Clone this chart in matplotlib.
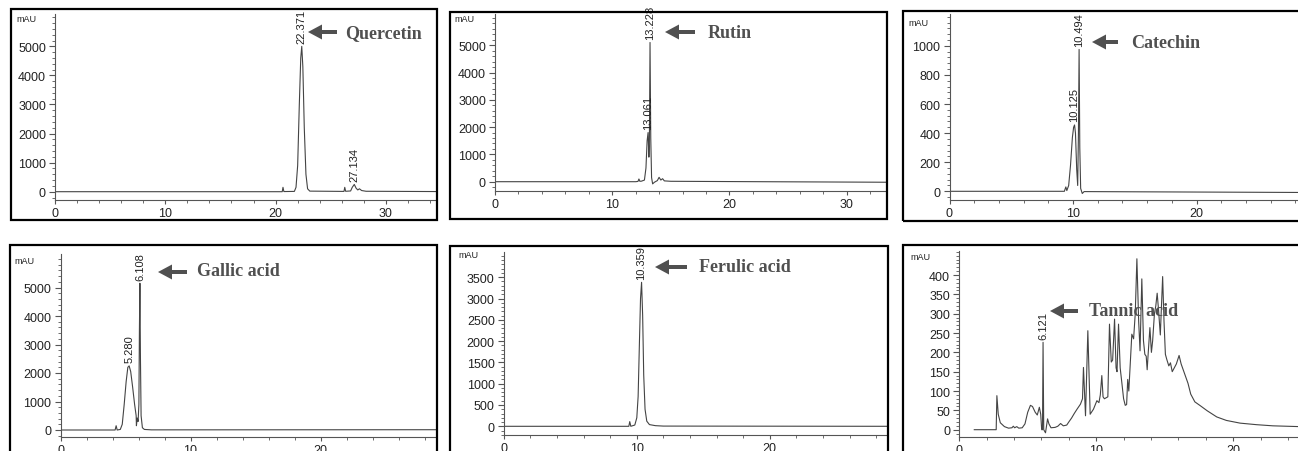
import matplotlib
matplotlib.use("Agg")
import matplotlib.pyplot as plt
from matplotlib.patches import Rectangle, Polygon
from matplotlib.ticker import MultipleLocator

# ---------------- data ----------------
quercetin_time = [0, 20.6, 20.67, 20.75, 21.7, 21.85, 22.0, 22.15, 22.28, 22.371, 22.47, 22.6, 22.75, 22.9, 23.1,
                  26.2, 26.27, 26.35, 26.8, 26.95, 27.134, 27.3, 27.45, 27.6, 27.8, 28.2, 34.6]
quercetin_mau = [0, 0, 150, 5, 10, 150, 900, 3000, 4600, 5000, 4300, 2200, 600, 100, 20,
                 10, 150, 15, 25, 150, 250, 120, 60, 100, 40, 15, 5]

rutin_time = [0, 12.0, 12.2, 12.28, 12.36, 12.5, 12.75, 12.88, 12.98, 13.061, 13.13, 13.17, 13.228, 13.29,
              13.36, 13.45, 13.6, 13.85, 14.0, 14.15, 14.3, 14.45, 15.0, 20.0, 33.5]
rutin_mau = [0, 0, 10, 100, 15, 20, 60, 500, 1500, 1800, 900, 1300, 5100, 1600,
             150, -80, -20, 40, 160, 60, 110, 30, 15, 5, -20]

catechin_time = [0, 9.3, 9.42, 9.5, 9.65, 9.8, 9.95, 10.05, 10.125, 10.2, 10.3, 10.38, 10.44, 10.494,
                 10.55, 10.62, 10.75, 10.9, 28.5]
catechin_mau = [0, 0, 30, 5, 40, 180, 370, 440, 456, 400, 150, 40, 400, 975,
                300, 20, -15, -2, -8]

gallic_time = [0, 4.2, 4.28, 4.36, 4.6, 4.75, 4.9, 5.05, 5.18, 5.28, 5.4, 5.55, 5.7, 5.82, 5.84, 5.9,
               5.97, 6.03, 6.07, 6.108, 6.15, 6.2, 6.3, 6.45, 7.0, 29]
gallic_mau = [0, 0, 150, 0, 20, 200, 900, 1700, 2200, 2250, 2050, 1500, 900, 500, 150, 420,
              300, 900, 3500, 5150, 2500, 500, 80, 20, 5, 10]

ferulic_time = [0, 9.4, 9.47, 9.55, 9.85, 10.0, 10.1, 10.2, 10.28, 10.359, 10.44, 10.52, 10.62, 10.75,
                10.95, 11.4, 12.0, 28.9]
ferulic_mau = [0, 0, 110, 0, 30, 200, 700, 2000, 3000, 3380, 2600, 1200, 400, 120,
               40, 15, 5, 0]

tannic_time = [1.1, 2.7, 2.75, 2.85, 3.0, 3.3, 3.6, 3.85, 3.95, 4.05, 4.2, 4.35, 4.6, 4.8, 5.0, 5.2, 5.35,
               5.55, 5.7, 5.85, 5.95, 6.02, 6.08, 6.121, 6.17, 6.3, 6.45, 6.55, 6.7, 7.0, 7.2, 7.4, 7.6,
               7.85, 8.0, 8.2, 8.4, 8.6, 8.85, 9.0, 9.07, 9.22, 9.39, 9.56, 9.8, 10.05, 10.2, 10.3, 10.41,
               10.5, 10.6, 10.85, 10.97, 11.1, 11.2, 11.34, 11.45, 11.52, 11.63, 11.75, 11.87, 12.0, 12.12,
               12.22, 12.3, 12.38, 12.5, 12.6, 12.73, 12.85, 12.97, 13.1, 13.2, 13.33, 13.45, 13.55, 13.65,
               13.72, 13.8, 13.92, 14.03, 14.12, 14.25, 14.35, 14.45, 14.55, 14.68, 14.85, 14.95, 15.05,
               15.15, 15.3, 15.42, 15.55, 15.7, 15.85, 16.05, 16.2, 16.35, 16.5, 16.7, 16.9, 17.2, 17.6,
               18.1, 18.8, 19.5, 20.5, 21.7, 22.9, 24.8]
tannic_mau = [0, 0, 88, 40, 18, 8, 4, 5, 9, 5, 8, 4, 5, 15, 45, 63, 60,
              45, 38, 58, 40, 0, 0, 226, 0, -8, 28, 15, 5, 6, 9, 16, 10,
              12, 20, 30, 42, 53, 66, 80, 161, 36, 256, 40, 53, 75, 70, 90, 140,
              85, 80, 85, 273, 175, 180, 286, 160, 150, 273, 160, 122, 80, 63,
              65, 130, 100, 180, 247, 235, 300, 442, 280, 204, 390, 230, 195, 190,
              155, 200, 264, 200, 230, 300, 320, 353, 310, 245, 396, 280, 195,
              182, 165, 173, 150, 160, 170, 192, 170, 155, 140, 120, 92, 72, 62,
              49, 33, 24, 17, 13, 10, 8]

compound_names = ["Quercetin", "Rutin", "Catechin", "Gallic acid", "Ferulic acid", "Tannic acid"]

quercetin_peaks = [(22.371, 5000, "22.371"), (27.134, 250, "27.134")]
rutin_peaks = [(13.228, 5100, "13.228"), (13.061, 1800, "13.061")]
catechin_peaks = [(10.494, 975, "10.494"), (10.125, 456, "10.125")]
gallic_peaks = [(6.108, 5150, "6.108"), (5.280, 2250, "5.280")]
ferulic_peaks = [(10.359, 3380, "10.359")]
tannic_peaks = [(6.121, 226, "6.121")]

y_major_steps = [1000, 1000, 200, 1000, 500, 50]
y_minor_steps = [200, 200, 40, 200, 100, 10]
y_tick_max = [5000, 5000, 1000, 5000, 3500, 400]

# ---------------- layout (pixels of the 1298x452 picture) ----------------
W, H = 1298, 452
fig = plt.figure(figsize=(W / 100, H / 100), dpi=100)
fig.patch.set_facecolor("white")


def fx(x):
    return x / W


def fy(y):
    return 1 - y / H


layouts = [
    dict(box=(11, 10, 437, 221), x0=55, right=436, top=15, bottom=201, sx=11.03, y0=192.7, sy=0.02907,
         arrow=(308, 337, 33), text=(345, 34), mau=(16, 20)),
    dict(box=(450, 13, 887, 220), x0=495, right=886, top=15, bottom=191.7, sx=11.72, y0=182.7, sy=0.0273,
         arrow=(665, 695, 33), text=(708, 33), mau=(454, 20)),
    dict(box=(903, 12, 1310, 222), x0=949.5, right=1300, top=15, bottom=201, sx=12.35, y0=192.3, sy=0.1455,
         arrow=(1092, 1118, 43), text=(1131, 43), mau=(908, 23)),
    dict(box=(10, 246, 437, 470), x0=60.5, right=436, top=255, bottom=437.7, sx=13.0, y0=431, sy=0.0285,
         arrow=(158, 187, 273), text=(197, 272), mau=(14, 262)),
    dict(box=(450, 247, 888, 470), x0=503.8, right=887, top=253.3, bottom=436, sx=13.3, y0=427.3, sy=0.0426,
         arrow=(655, 687, 268), text=(699, 268), mau=(458, 256)),
    dict(box=(903, 246, 1310, 470), x0=959.2, right=1300, top=251.7, bottom=437.7, sx=13.7, y0=430.7, sy=0.3867,
         arrow=(1050, 1078, 312), text=(1089, 312), mau=(910, 258)),
]

traces = [(quercetin_time, quercetin_mau), (rutin_time, rutin_mau), (catechin_time, catechin_mau),
          (gallic_time, gallic_mau), (ferulic_time, ferulic_mau), (tannic_time, tannic_mau)]
peaks = [quercetin_peaks, rutin_peaks, catechin_peaks, gallic_peaks, ferulic_peaks, tannic_peaks]

axis_col = "#555555"
trace_col = "#444444"
name_col = "#505050"
sans = "Liberation Sans"
serif = "Liberation Serif"

for i, L in enumerate(layouts):
    bl, bt, br, bb = L["box"]
    fig.add_artist(Rectangle((fx(bl), fy(bb)), (br - bl) / W, (bb - bt) / H, transform=fig.transFigure,
                             fill=False, edgecolor="black", linewidth=1.6, zorder=5))

    ax = fig.add_axes([fx(L["x0"]), fy(L["bottom"]), (L["right"] - L["x0"]) / W, (L["bottom"] - L["top"]) / H])
    ax.set_facecolor("none")
    ax.set_xlim(0, (L["right"] - L["x0"]) / L["sx"])
    ax.set_ylim(-(L["bottom"] - L["y0"]) / L["sy"], (L["y0"] - L["top"]) / L["sy"])
    for s in ("top", "right"):
        ax.spines[s].set_visible(False)
    for s in ("left", "bottom"):
        ax.spines[s].set_color(axis_col)
        ax.spines[s].set_linewidth(0.8)

    t, v = traces[i]
    ax.plot(t, v, color=trace_col, lw=0.8)

    ax.set_yticks(list(range(0, y_tick_max[i] + 1, y_major_steps[i])))
    ax.yaxis.set_minor_locator(MultipleLocator(y_minor_steps[i]))
    ax.xaxis.set_major_locator(MultipleLocator(10))
    ax.xaxis.set_minor_locator(MultipleLocator(2))
    ax.tick_params(axis="y", which="major", length=4.5, width=0.8, color=axis_col, pad=2,
                   labelsize=9, labelcolor="#222222")
    ax.tick_params(axis="y", which="minor", length=2.2, width=0.6, color=axis_col)
    ax.tick_params(axis="x", which="major", length=3, width=0.8, color=axis_col, pad=2,
                   labelsize=9, labelcolor="#222222")
    ax.tick_params(axis="x", which="minor", length=2, width=0.6, color=axis_col)
    for lab in ax.get_xticklabels() + ax.get_yticklabels():
        lab.set_fontfamily(sans)

    for (pt, ph, ptxt) in peaks[i]:
        ax.annotate(ptxt, xy=(pt, ph), xytext=(0, 2.5), textcoords="offset points",
                    rotation=90, ha="center", va="bottom", fontsize=8, family=sans, color="#222222",
                    annotation_clip=False)

    mx, my = L["mau"]
    fig.text(fx(mx), fy(my), "mAU", fontsize=6.5, family=sans, color="#222222", ha="left", va="center")

    xt, xtail, yc = L["arrow"]
    head = 14
    verts = [(xt, yc), (xt + head, yc - 7.5), (xt + head, yc - 2), (xtail, yc - 2),
             (xtail, yc + 2), (xt + head, yc + 2), (xt + head, yc + 7.5)]
    fig.add_artist(Polygon([(fx(a), fy(b)) for a, b in verts], closed=True, transform=fig.transFigure,
                           facecolor=name_col, edgecolor="none", zorder=6))
    tx, ty = L["text"]
    fig.text(fx(tx), fy(ty), compound_names[i], fontsize=13, family=serif, fontweight="bold",
             color=name_col, ha="left", va="center", zorder=6)

fig.savefig("out.png", dpi=100)
